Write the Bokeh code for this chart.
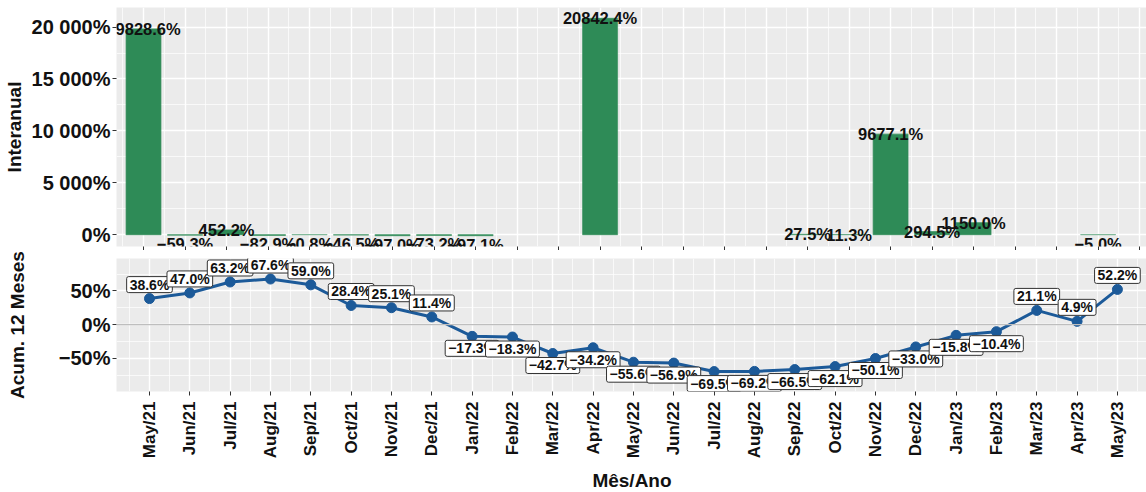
import math
from bokeh.plotting import figure
from bokeh.layouts import column
from bokeh.models import FixedTicker, Range1d, ColumnDataSource, Label, Span
from bokeh.embed import file_html
from bokeh.resources import INLINE
from bokeh.core.properties import value

# ---------------- data ----------------
months = ["May/21", "Jun/21", "Jul/21", "Aug/21", "Sep/21", "Oct/21", "Nov/21",
          "Dec/21", "Jan/22", "Feb/22", "Mar/22", "Apr/22", "May/22", "Jun/22",
          "Jul/22", "Aug/22", "Sep/22", "Oct/22", "Nov/22", "Dec/22", "Jan/23",
          "Feb/23", "Mar/23", "Apr/23", "May/23"]

# Interanual variation (%), None = no value
interanual = [19828.6, -59.3, 452.2, -82.9, -0.8, -46.5, -97.0, -73.2, -97.1,
              None, None, 20842.4, None, None, None, None, 27.5, 11.3, 9677.1,
              294.5, 1150.0, None, None, -5.0, None]

# Accumulated 12 months (%)
acum12 = [38.6, 47.0, 63.2, 67.6, 59.0, 28.4, 25.1, 11.4, -17.3, -18.3, -42.7,
          -34.2, -55.6, -56.9, -69.5, -69.2, -66.5, -62.1, -50.1, -33.0, -15.8,
          -10.4, 21.1, 4.9, 52.2]

top_ticks = [0, 5000, 10000, 15000, 20000]
top_tick_labels = ["0%", "5 000%", "10 000%", "15 000%", "20 000%"]
bottom_ticks = [-50, 0, 50]
bottom_tick_labels = ["\u221250%", "0%", "50%"]
caption = "Fonte: ABRAJ"


def pct(v):
    return f"{v:.1f}%".replace("-", "\u2212")


# ---------------- style ----------------
FONT = "Liberation Sans"
PANEL = "#EBEBEB"
GREEN = "#2E8B57"
BLUE = "#1C5A99"
idx = list(range(len(months)))


def style(p):
    p.background_fill_color = PANEL
    p.outline_line_color = None
    for ax in p.axis:
        ax.axis_line_color = None
        ax.major_tick_line_color = "#333333"
        ax.major_tick_out = 4
        ax.major_tick_in = 0
        ax.minor_tick_line_color = None
        ax.major_label_text_font = FONT
        ax.major_label_text_font_style = "bold"
        ax.major_label_text_color = "#111111"
        ax.axis_label_text_font = FONT
        ax.axis_label_text_font_style = "bold"
        ax.axis_label_text_color = "#111111"
    for g in p.grid:
        g.grid_line_color = "white"
        g.grid_line_width = 1.4
        g.minor_grid_line_color = "white"
        g.minor_grid_line_width = 0.7


FRAME_W = 1031

# ---------------- top panel ----------------
p1 = figure(frame_width=FRAME_W, frame_height=239,
            x_range=Range1d(-0.651, 24.19), y_range=Range1d(-1144, 21889),
            output_backend="svg", toolbar_location=None,
            min_border_left=115, min_border_right=0, min_border_top=7,
            min_border_bottom=0)
style(p1)

bx = [i for i, v in zip(idx, interanual) if v is not None]
bv = [v for v in interanual if v is not None]
bars = ColumnDataSource(dict(x=bx, top=bv))
p1.vbar(x="x", top="top", bottom=0, width=0.84, source=bars,
        fill_color=GREEN, line_color=GREEN, line_alpha=0.6, line_width=1.2)

pos = ColumnDataSource(dict(x=[x for x, v in zip(bx, bv) if v >= 0],
                            y=[v for v in bv if v >= 0],
                            t=[pct(v) for v in bv if v >= 0]))
neg = ColumnDataSource(dict(x=[x for x, v in zip(bx, bv) if v < 0],
                            y=[v for v in bv if v < 0],
                            t=[pct(v) for v in bv if v < 0]))
p1.text(x="x", y="y", text="t", source=pos, text_align="center",
        text_baseline="alphabetic", text_font=value(FONT),
        text_font_style="bold", text_font_size="16.5px", text_color="#111111")
p1.text(x="x", y="y", text="t", source=neg, text_align="center",
        text_baseline="top", text_font=value(FONT),
        text_font_style="bold", text_font_size="16.5px", text_color="#111111")

p1.xaxis.ticker = FixedTicker(ticks=idx, minor_ticks=[i - 0.5 for i in range(26)])
p1.xaxis.major_label_overrides = {i: "" for i in idx}
p1.xaxis.major_label_text_font_size = "2px"
p1.xaxis.major_label_standoff = 0
p1.yaxis.ticker = FixedTicker(ticks=top_ticks,
                              minor_ticks=[-2500, 2500, 7500, 12500, 17500])
p1.yaxis.major_label_overrides = dict(zip(top_ticks, top_tick_labels))
p1.yaxis.major_label_text_font_size = "20px"
p1.yaxis.major_label_standoff = 2
p1.yaxis.axis_label = "Interanual"
p1.yaxis.axis_label_text_font_size = "19px"
p1.yaxis.axis_label_standoff = 4

# ---------------- bottom panel ----------------
p2 = figure(frame_width=FRAME_W, frame_height=133,
            x_range=Range1d(-0.818, 24.746), y_range=Range1d(-99, 98),
            output_backend="svg", toolbar_location=None,
            min_border_left=115, min_border_right=0, min_border_top=8,
            min_border_bottom=0)
style(p2)
p2.add_layout(Span(location=0, dimension="width", line_color="#BEBEBE",
                   line_width=1.3))
p2.line(x=idx, y=acum12, line_color=BLUE, line_width=3)
p2.scatter(x=idx, y=acum12, size=10, fill_color=BLUE, line_color=BLUE)

for i, v in zip(idx, acum12):
    p2.add_layout(Label(x=i, y=v, text=pct(v),
                        y_offset=14 if v >= 0 else -12,
                        text_align="center", text_baseline="middle",
                        text_font=FONT, text_font_style="bold",
                        text_font_size="14px", text_color="#111111",
                        background_fill_color="white",
                        border_line_color="#333333", border_line_width=1,
                        padding=dict(left=3, right=3, top=0, bottom=0),
                        border_radius=2))

# caption, bottom right (mostly cut off in the reference)
p2.add_layout(Label(x=FRAME_W, y=-92, x_units="screen", y_units="screen",
                    text=caption, text_align="right", text_baseline="top",
                    text_font=FONT, text_font_style="bold",
                    text_font_size="13px", text_color="#111111"))

p2.xaxis.ticker = FixedTicker(ticks=idx, minor_ticks=[i - 0.5 for i in range(26)])
p2.xaxis.major_label_overrides = dict(zip(idx, months))
p2.xaxis.major_label_orientation = math.pi / 2
p2.xaxis.major_label_text_font_size = "17px"
p2.xaxis.major_label_standoff = 6
p2.xaxis.axis_label = "Mês/Ano"
p2.xaxis.axis_label_text_font_size = "19px"
p2.xaxis.axis_label_standoff = 9
p2.yaxis.ticker = FixedTicker(ticks=bottom_ticks, minor_ticks=[-75, -25, 25, 75])
p2.yaxis.major_label_overrides = dict(zip(bottom_ticks, bottom_tick_labels))
p2.yaxis.major_label_text_font_size = "20px"
p2.yaxis.major_label_standoff = 2
p2.yaxis.axis_label = "Acum. 12 Meses"
p2.yaxis.axis_label_text_font_size = "19px"
p2.yaxis.axis_label_standoff = 28

layout = column(p1, p2, spacing=0)
open("out.html", "w").write(file_html(layout, INLINE))
